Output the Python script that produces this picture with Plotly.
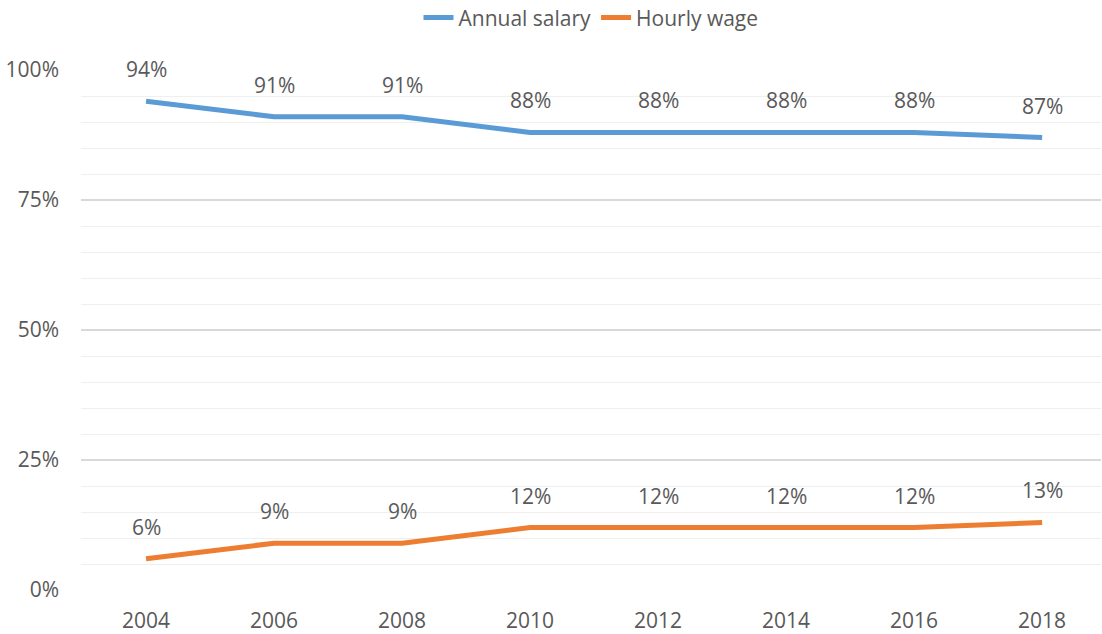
import plotly.graph_objects as go

years = ["2004", "2006", "2008", "2010", "2012", "2014", "2016", "2018"]
annual_salary = [94, 91, 91, 88, 88, 88, 88, 87]
hourly_wage = [6, 9, 9, 12, 12, 12, 12, 13]
y_ticks = [0, 25, 50, 75, 100]
y_tick_labels = ["0%", "25%", "50%", "75%", "100%"]

FONT = "Open Sans, Lato, sans-serif"
TXT = "#595959"

fig = go.Figure()
series = [("Annual salary", annual_salary, "#5b9bd5"), ("Hourly wage", hourly_wage, "#ed7d31")]
for name, vals, col in series:
    fig.add_trace(go.Scatter(x=years, y=vals, mode="lines", name=name,
                             line=dict(color=col, width=5), cliponaxis=False))
    for i, v in enumerate(vals):
        fig.add_annotation(x=i, y=v, xref="x", yref="y", text=f"{v}%", showarrow=False,
                           yshift=32, font=dict(size=21, color=TXT, family=FONT))

fig.update_layout(
    width=1102, height=634,
    margin=dict(l=81, r=1, t=70, b=44),
    paper_bgcolor="white", plot_bgcolor="white",
    font=dict(family=FONT, size=21, color=TXT),
    legend=dict(orientation="h", x=0.5, xanchor="center", y=0.972, yanchor="middle",
                yref="container", font=dict(size=21, color=TXT),
                traceorder="normal"),
    xaxis=dict(type="category", range=[-0.508, 7.46], showgrid=False, zeroline=False,
               showline=False, ticks="", ticklabelstandoff=16,
               tickfont=dict(size=21, color=TXT, family=FONT)),
    yaxis=dict(range=[0, 100], tickvals=y_ticks, ticktext=y_tick_labels,
               showgrid=True, gridcolor="#d9d9d9", gridwidth=1.5, zeroline=False,
               showline=False, ticks="", ticklabelstandoff=21,
               minor=dict(dtick=5, showgrid=True, gridcolor="#efefef", gridwidth=1.2),
               tickfont=dict(size=21, color=TXT, family=FONT)),
)
fig.write_html("out.html")
